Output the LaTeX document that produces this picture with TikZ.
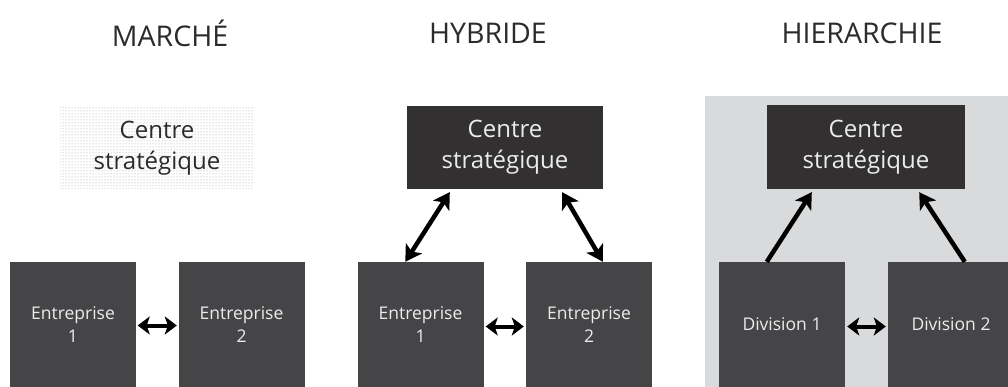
\documentclass[tikz,border=0pt]{standalone}
\usepackage{fontspec}
\setmainfont{Open Sans}
\usetikzlibrary{arrows.meta,patterns,calc}
\definecolor{boxgray}{HTML}{454547}
\definecolor{centregray}{HTML}{323031}
\definecolor{bggray}{HTML}{D9DADB}
\definecolor{titlecol}{HTML}{2B2B2B}
\definecolor{lighttext}{HTML}{ECECEC}
\begin{document}
\begin{tikzpicture}[x=1pt,y=-1pt,
  title/.style={text=titlecol,font=\fontsize{28.5}{32}\selectfont},
  lowbox/.style={fill=boxgray,minimum width=126pt,minimum height=125pt,inner sep=0pt,
    text=lighttext,align=center,font=\fontsize{17.5}{23}\selectfont},
  centrebox/.style={fill=centregray,minimum width=196pt,minimum height=83pt,inner sep=0pt,
    text=lighttext,align=center,font=\fontsize{24}{31}\selectfont},
  dotbox/.style={pattern=dots,pattern color=gray!75,minimum width=194pt,minimum height=82pt,inner sep=0pt,
    text=titlecol,align=center,font=\fontsize{24}{31}\selectfont},
  bigarrow/.style={line width=4.5pt,{Stealth[length=16pt,width=19pt,inset=4pt]}-{Stealth[length=16pt,width=19pt,inset=4pt]}},
  uparrow/.style={line width=4.5pt,-{Stealth[length=16pt,width=19pt,inset=4pt]}},
  smallarrow/.style={line width=4pt,{Stealth[length=12pt,width=18pt,inset=3pt]}-{Stealth[length=12pt,width=18pt,inset=3pt]}}]
\useasboundingbox (0,0) rectangle (1008,387);
\fill[white] (0,0) rectangle (1008,387);
\clip (0,0) rectangle (1008,387);
% titles
\node[title] (t1) at (170,33) {MARCHÉ};
\node[title] (t2) at (488,33) {HYBRIDE};
\node[title] (t3) at (862,33) {HIERARCHIE};
% hierarchy background
\fill[bggray] (705,96) rectangle (1008,387);
% MARCHE
\node[dotbox] (mc) at (157,148) {Centre\\stratégique};
\node[lowbox] (me1) at (73,324.5) {Entreprise\\1};
\node[lowbox] (me2) at (241.5,324.5) {Entreprise\\2};
\draw[smallarrow] ([shift={(1.5,1)}]me1.east) -- ([shift={(-1.5,1)}]me2.west);
% HYBRIDE
\node[centrebox] (hc) at (505,147.5) {Centre\\stratégique};
\node[lowbox] (he1) at (420.5,324.5) {Entreprise\\1};
\node[lowbox] (he2) at (589,324.5) {Entreprise\\2};
\draw[smallarrow] ([shift={(2,2)}]he1.east) -- ([shift={(-2,2)}]he2.west);
\draw[bigarrow] ([shift={(48,0)}]he1.north west) -- ([shift={(43,3)}]hc.south west);
\draw[bigarrow] ([shift={(-41,3)}]hc.south east) -- ([shift={(77,0)}]he2.north west);
% HIERARCHIE
\node[centrebox,minimum width=198pt,minimum height=84pt] (rc) at (866,147) {Centre\\stratégique};
\node[lowbox] (rd1) at (782,324.5) {Division 1};
\node[lowbox] (rd2) at (951,324.5) {Division 2};
\draw[smallarrow] ([shift={(2,2)}]rd1.east) -- ([shift={(-2,2)}]rd2.west);
\draw[uparrow] ([shift={(48,0)}]rd1.north west) -- ([shift={(45,3)}]rc.south west);
\draw[uparrow] ([shift={(77,0)}]rd2.north west) -- ([shift={(-46,3)}]rc.south east);
\end{tikzpicture}
\end{document}
